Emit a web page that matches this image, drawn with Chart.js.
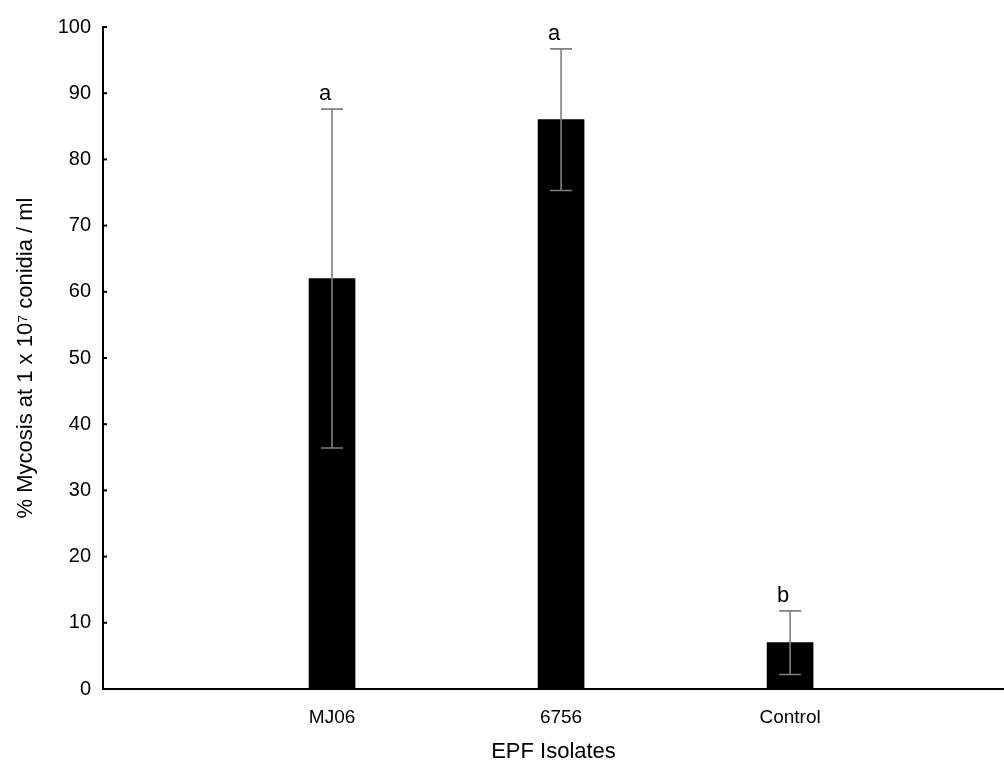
<!DOCTYPE html>
<html>
<head>
<meta charset="utf-8">
<script src="https://cdn.jsdelivr.net/npm/chart.js@4"></script>
<style>
  html, body { margin: 0; padding: 0; background: #fff; }
  #wrap { width: 1004px; height: 765px; }
</style>
</head>
<body>
<div id="wrap"><canvas id="mycosisChart"></canvas></div>
<script>
// isolates and mean % mycosis (with SD)
var isolates = ['MJ06', '6756', 'Control'];
var mycosis = [62, 86, 7];
var errUp = [25.6, 10.7, 4.8];
var errDown = [25.6, 10.7, 4.8];
var groups = ['a', 'a', 'b'];
var yTicks = [0, 10, 20, 30, 40, 50, 60, 70, 80, 90, 100];

var FONT = '"Liberation Sans", Arial, sans-serif';

// error bars, letters and inward tick marks
var extras = {
    id: 'extras',
    afterDatasetsDraw: function(chart) {
        var ctx = chart.ctx;
        var xs = chart.scales.x, ys = chart.scales.y;
        ctx.save();
        ctx.strokeStyle = '#808080';
        ctx.lineWidth = 1.6;
        isolates.forEach(function(name, i) {
            var x = xs.getPixelForValue(i + 1);
            var top = ys.getPixelForValue(mycosis[i] + errUp[i]);
            var bot = ys.getPixelForValue(mycosis[i] - errDown[i]);
            ctx.beginPath();
            ctx.moveTo(x, top); ctx.lineTo(x, bot);
            ctx.moveTo(x - 11, top); ctx.lineTo(x + 11, top);
            ctx.moveTo(x - 11, bot); ctx.lineTo(x + 11, bot);
            ctx.stroke();
            ctx.fillStyle = '#000';
            ctx.font = '22px ' + FONT;
            ctx.textAlign = 'center';
            ctx.textBaseline = 'alphabetic';
            ctx.fillText(groups[i], x - 7, top - 9);
        });
        // inward y ticks
        ctx.strokeStyle = '#000';
        ctx.lineWidth = 2;
        var ax = xs.left;
        yTicks.forEach(function(v) {
            var y = ys.getPixelForValue(v);
            ctx.beginPath();
            ctx.moveTo(ax, y); ctx.lineTo(ax + 4, y);
            ctx.stroke();
        });
        ctx.restore();
    }
};

var ctx = document.getElementById('mycosisChart').getContext('2d');
new Chart(ctx, {
    type: 'bar',
    data: {
        datasets: [{
            data: isolates.map(function(n, i) { return { x: i + 1, y: mycosis[i] }; }),
            backgroundColor: '#000',
            barThickness: 46
        }]
    },
    options: {
        responsive: true,
        maintainAspectRatio: false,
        animation: false,
        layout: { padding: { top: 27, right: 0, left: 0, bottom: 0 } },
        plugins: { legend: { display: false }, tooltip: { enabled: false } },
        scales: {
            x: {
                type: 'linear',
                offset: false,
                min: 0,
                max: 3.934,
                grid: { display: false, drawTicks: false, offset: false },
                border: { display: true, color: '#000', width: 2 },
                afterBuildTicks: function(s) {
                    s.ticks = [1, 2, 3].map(function(v) { return { value: v }; });
                },
                ticks: {
                    color: '#000',
                    padding: 17,
                    maxRotation: 0,
                    font: { family: FONT, size: 19 },
                    callback: function(v) { return isolates[v - 1]; }
                },
                title: {
                    display: true,
                    text: 'EPF Isolates',
                    color: '#000',
                    font: { family: FONT, size: 22 },
                    padding: { top: 14, bottom: 0 }
                },
                afterFit: function(s) { s.height = 76; }
            },
            y: {
                min: 0,
                max: 100,
                afterBuildTicks: function(s) {
                    s.ticks = yTicks.map(function(v) { return { value: v }; });
                },
                grid: { display: false, drawTicks: false },
                border: { display: true, color: '#000', width: 2 },
                ticks: {
                    color: '#000',
                    padding: 12,
                    font: { family: FONT, size: 20 }
                },
                title: {
                    display: true,
                    text: '% Mycosis at 1 x 10\u2077 conidia / ml',
                    color: '#000',
                    font: { family: FONT, size: 22 },
                    padding: { top: 13, bottom: 0 }
                },
                afterFit: function(s) { s.width = 103; }
            }
        }
    },
    plugins: [extras]
});
</script>
</body>
</html>
